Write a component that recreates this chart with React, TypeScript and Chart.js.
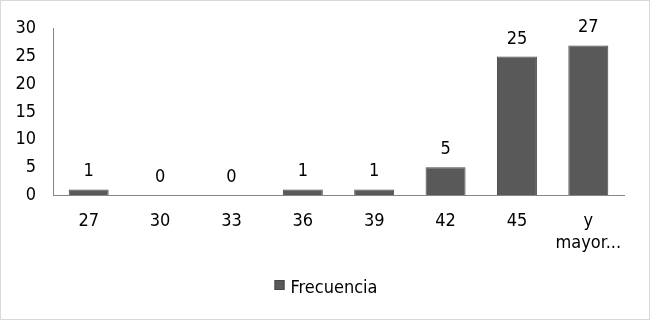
import React, { useEffect, useRef } from "react";
import { Chart, registerables } from "chart.js";

Chart.register(...registerables);

const categories: (string | string[])[] = ["27", "30", "33", "36", "39", "42", "45", ["y", "mayor..."]];
const frecuencia: number[] = [1, 0, 0, 1, 1, 5, 25, 27];
const yTicks = { min: 0, max: 30, step: 5 };
const seriesName = "Frecuencia";

const FONT = "'DejaVu Sans Condensed', 'DejaVu Sans', sans-serif";
const FS = 18;
const BAR = "#595959";
const AXIS = "#868686";

const valueLabels = {
  id: "valueLabels",
  afterDatasetsDraw(chart: any) {
    const ctx = chart.ctx;
    const meta = chart.getDatasetMeta(0);
    const data = chart.data.datasets[0].data as number[];
    ctx.save();
    ctx.font = `${FS}px ${FONT}`;
    ctx.fillStyle = "#000";
    ctx.textAlign = "center";
    ctx.textBaseline = "alphabetic";
    meta.data.forEach((el: any, i: number) => {
      ctx.fillText(String(data[i]), el.x, el.y - 13);
    });
    ctx.restore();
  },
};

const customLegend = {
  id: "customLegend",
  afterDraw(chart: any) {
    const ctx = chart.ctx;
    const ds = chart.data.datasets[0];
    ctx.save();
    ctx.font = `${FS}px ${FONT}`;
    const tw = ctx.measureText(ds.label).width;
    const box = 10;
    const gap = 6;
    const total = box + gap + tw;
    const x0 = chart.width / 2 + 1 - total / 2;
    const base = chart.chartArea.bottom + 98;
    ctx.fillStyle = ds.backgroundColor;
    ctx.fillRect(x0, base - 13, box, box);
    ctx.strokeStyle = "#474747";
    ctx.lineWidth = 1;
    ctx.strokeRect(x0 + 0.5, base - 12.5, box - 1, box - 1);
    ctx.fillStyle = "#000";
    ctx.textBaseline = "alphabetic";
    ctx.textAlign = "left";
    ctx.fillText(ds.label, x0 + box + gap, base);
    ctx.restore();
  },
};

export default function App() {
  const ref = useRef<HTMLCanvasElement>(null);
  useEffect(() => {
    if (!ref.current) return;
    const chart = new Chart(ref.current, {
      type: "bar",
      data: {
        labels: categories,
        datasets: [
          {
            label: seriesName,
            data: frecuencia,
            backgroundColor: BAR,
            borderColor: "#474747",
            borderWidth: 1,
            categoryPercentage: 1,
            barPercentage: 0.56,
          },
        ],
      },
      options: {
        animation: false,
        responsive: false,
        maintainAspectRatio: false,
        layout: { padding: { left: 0, right: 25, top: 21, bottom: 52 } },
        plugins: {
          legend: { display: false },
          tooltip: { enabled: false },
        },
        scales: {
          x: {
            grid: { display: false, drawTicks: false },
            border: { display: true, color: AXIS, width: 1 },
            ticks: {
              font: { family: FONT, size: FS, lineHeight: 1.25 },
              color: "#000",
              padding: 15,
              maxRotation: 0,
              autoSkip: false,
            },
            afterFit: (s: any) => {
              s.height = 72;
            },
          },
          y: {
            min: yTicks.min,
            max: yTicks.max,
            grid: { display: false, drawTicks: false },
            border: { display: true, color: AXIS, width: 1 },
            ticks: {
              stepSize: yTicks.step,
              font: { family: FONT, size: FS },
              color: "#000",
              padding: 17,
            },
            afterFit: (s: any) => {
              s.width = 52;
            },
          },
        },
      },
      plugins: [valueLabels, customLegend],
    });
    return () => chart.destroy();
  }, []);
  return (
    <div
      style={{
        position: "fixed",
        left: 0,
        top: 0,
        width: 650,
        height: 320,
        boxSizing: "border-box",
        border: "1px solid #d9d9d9",
        background: "#fff",
      }}
    >
      <canvas ref={ref} width={648} height={318} style={{ display: "block" }} />
    </div>
  );
}
